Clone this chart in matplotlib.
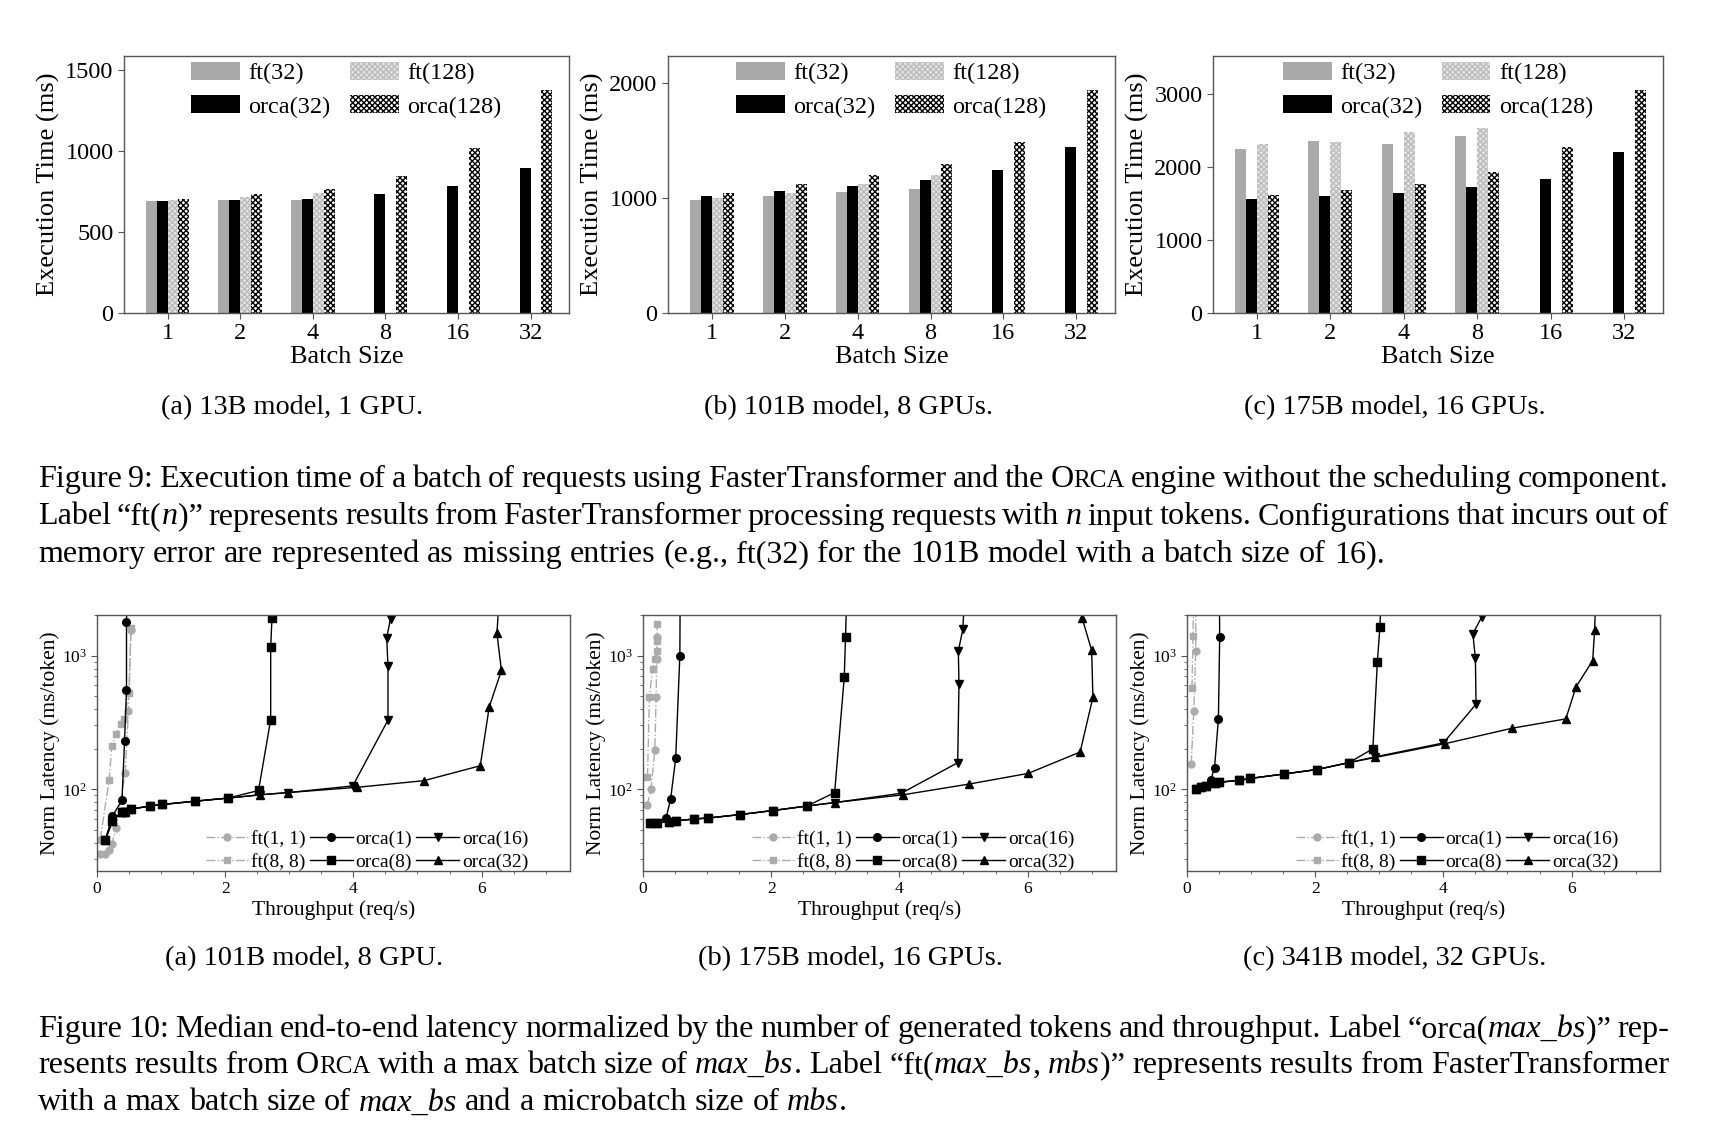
import numpy as np
import matplotlib
matplotlib.use('Agg')
import matplotlib.pyplot as plt
from matplotlib.ticker import MultipleLocator, LogLocator, NullFormatter
from matplotlib.transforms import IdentityTransform

plt.rcParams['font.family'] = 'Liberation Serif'
plt.rcParams['mathtext.fontset'] = 'custom'
plt.rcParams['mathtext.rm'] = 'Liberation Serif'
plt.rcParams['mathtext.it'] = 'Liberation Serif:italic'
plt.rcParams['hatch.linewidth'] = 1.0

nan = np.nan

# ---- Figure 9: execution time of a batch (ms) ----
batch_sizes = ['1', '2', '4', '8', '16', '32']
bar_labels = ['ft(32)', 'orca(32)', 'ft(128)', 'orca(128)']

ft32_13b = [691, 695, 699, nan, nan, nan]
orca32_13b = [689, 695, 703, 736, 782, 893]
ft128_13b = [699, 714, 741, nan, nan, nan]
orca128_13b = [703, 732, 765, 844, 1017, 1376]

ft32_101b = [983, 1018, 1052, 1073, nan, nan]
orca32_101b = [1012, 1058, 1104, 1157, 1244, 1438]
ft128_101b = [1000, 1044, 1116, 1194, nan, nan]
orca128_101b = [1044, 1116, 1194, 1290, 1481, 1934]

ft32_175b = [2244, 2349, 2308, 2431, nan, nan]
orca32_175b = [1561, 1598, 1639, 1726, 1841, 2203]
ft128_175b = [2317, 2340, 2477, 2528, nan, nan]
orca128_175b = [1616, 1685, 1763, 1928, 2271, 3054]

bar_ylim = [1585, 2230, 3520]
bar_yticks = [[0, 500, 1000, 1500], [0, 1000, 2000], [0, 1000, 2000, 3000]]
sub9 = ['(a) 13B model, 1 GPU.', '(b) 101B model, 8 GPUs.', '(c) 175B model, 16 GPUs.']

# ---- Figure 10: norm latency (ms/token) vs throughput (req/s) ----
line_labels = ['ft(1, 1)', 'ft(8, 8)', 'orca(1)', 'orca(8)', 'orca(16)', 'orca(32)']

# 101B model, 8 GPU
ft11_a_x = [0.05, 0.12, 0.18, 0.23, 0.30, 0.44, 0.49, 0.53]
ft11_a_y = [33, 33, 35, 39, 51, 133, 385, 1550]
ft88_a_x = [0.05, 0.19, 0.23, 0.30, 0.37, 0.42, 0.50, 0.53]
ft88_a_y = [42, 118, 211, 257, 310, 337, 521, 1600]
orca1_a_x = [0.13, 0.24, 0.39, 0.43, 0.46, 0.46, 0.47]
orca1_a_y = [42, 63, 83, 230, 555, 1775, 3000]
orca8_a_x = [0.13, 0.24, 0.39, 0.44, 0.53, 0.82, 1.02, 1.53, 2.05, 2.52, 2.71, 2.71, 2.73, 2.74]
orca8_a_y = [42, 58, 68, 68, 71, 75, 77, 81.5, 86, 98, 331, 1150, 1920, 3000]
orca16_a_x = [0.13, 0.24, 0.39, 0.44, 0.53, 0.82, 1.02, 1.53, 2.05, 2.55, 2.98, 3.99, 4.54, 4.54, 4.52, 4.58, 4.62]
orca16_a_y = [42, 58, 68, 68, 71, 75, 77, 81.5, 86, 91, 94.5, 106, 329, 839, 1360, 1890, 3000]
orca32_a_x = [0.13, 0.24, 0.39, 0.44, 0.53, 0.82, 1.02, 1.53, 2.05, 2.55, 2.98, 4.06, 5.10, 5.98, 6.12, 6.31, 6.24, 6.28]
orca32_a_y = [42, 58, 68, 68, 71, 75, 77, 81.5, 86, 91, 94.5, 103.5, 116, 150, 413, 774, 1462, 3000]

# 175B model, 16 GPUs
ft11_b_x = [0.065, 0.125, 0.185, 0.205, 0.215, 0.22]
ft11_b_y = [76, 100, 197, 492, 947, 1370]
ft88_b_x = [0.07, 0.10, 0.15, 0.185, 0.215, 0.22, 0.22]
ft88_b_y = [124, 492, 790, 950, 1075, 1290, 1720]
orca1_b_x = [0.115, 0.22, 0.36, 0.43, 0.51, 0.575, 0.58]
orca1_b_y = [56, 56, 61, 84, 170, 1000, 3000]
orca8_b_x = [0.115, 0.22, 0.40, 0.51, 0.80, 1.02, 1.51, 2.03, 2.56, 2.99, 3.14, 3.16, 3.18]
orca8_b_y = [56, 56, 57.4, 58, 60, 61, 64.7, 69.4, 75, 94.5, 687, 1378, 3000]
orca16_b_x = [0.115, 0.22, 0.40, 0.51, 0.80, 1.02, 1.51, 2.03, 2.56, 2.99, 4.03, 4.91, 4.93, 4.92, 4.99, 5.02]
orca16_b_y = [56, 56, 57.4, 58, 60, 61, 64.7, 69.4, 75, 79.6, 93.4, 158, 612, 1083, 1570, 3000]
orca32_b_x = [0.115, 0.22, 0.40, 0.51, 0.80, 1.02, 1.51, 2.03, 2.56, 2.99, 4.06, 5.09, 6.01, 6.82, 7.02, 7.00, 6.85, 6.70]
orca32_b_y = [56, 56, 57.4, 58, 60, 61, 64.7, 69.4, 75, 79.6, 91, 109.5, 131.5, 190, 487, 1095, 1915, 3000]

# 341B model, 32 GPUs
ft11_c_x = [0.065, 0.106, 0.136, 0.14]
ft11_c_y = [154, 387, 1077, 3000]
ft88_c_x = [0.077, 0.095, 0.10]
ft88_c_y = [570, 1406, 3000]
orca1_c_x = [0.136, 0.224, 0.37, 0.43, 0.49, 0.51, 0.505]
orca1_c_y = [100, 103.5, 117, 145, 336, 1368, 3000]
orca8_c_x = [0.136, 0.224, 0.30, 0.43, 0.50, 0.815, 0.99, 1.506, 2.03, 2.53, 2.90, 2.97, 3.01, 3.03]
orca8_c_y = [100, 103.5, 106, 112, 113, 116.6, 120.6, 130, 140.6, 158.5, 201, 893, 1630, 3000]
orca16_c_x = [0.136, 0.224, 0.30, 0.43, 0.50, 0.815, 0.99, 1.506, 2.03, 2.53, 2.94, 4.00, 4.51, 4.50, 4.46, 4.60, 4.70]
orca16_c_y = [100, 103.5, 106, 112, 113, 116.6, 120.6, 130, 140.6, 158.5, 175, 222, 433, 951, 1455, 1950, 3000]
orca32_c_x = [0.136, 0.224, 0.30, 0.43, 0.50, 0.815, 0.99, 1.506, 2.03, 2.53, 2.94, 4.02, 5.07, 5.91, 6.07, 6.33, 6.36, 6.38]
orca32_c_y = [100, 103.5, 106, 112, 113, 116.6, 120.6, 130, 140.6, 158.5, 173, 219, 286, 336, 583, 918, 1559, 3000]

sub10 = ['(a) 101B model, 8 GPU.', '(b) 175B model, 16 GPUs.', '(c) 341B model, 32 GPUs.']

# captions: (text, style) with n = normal, i = italic, sc = small caps
cap9 = [
    [('Figure 9: Execution time of a batch of requests using FasterTransformer and the O', 'n'), ('RCA', 'sc'),
     (' engine without the scheduling component.', 'n')],
    [('Label “ft(', 'n'), ('n', 'i'), (')” represents results from FasterTransformer processing requests with ', 'n'),
     ('n', 'i'), (' input tokens. Configurations that incurs out of', 'n')],
    [('memory error are represented as missing entries (e.g., ft(32) for the 101B model with a batch size of 16).', 'n')],
]
cap10 = [
    [('Figure 10: Median end-to-end latency normalized by the number of generated tokens and throughput. Label “orca(', 'n'),
     ('max_bs', 'i'), (')” rep-', 'n')],
    [('resents results from O', 'n'), ('RCA', 'sc'), (' with a max batch size of ', 'n'), ('max_bs', 'i'),
     ('. Label “ft(', 'n'), ('max_bs', 'i'), (', ', 'n'), ('mbs', 'i'),
     (')” represents results from FasterTransformer', 'n')],
    [('with a max batch size of ', 'n'), ('max_bs', 'i'), (' and a microbatch size of ', 'n'), ('mbs', 'i'), ('.', 'n')],
]

W, H = 1714, 1140
fig = plt.figure(figsize=(W / 100, H / 100), dpi=100)
SPINE = '#555555'


def px_axes(l, r, t, b):
    return fig.add_axes([l / W, 1 - b / H, (r - l) / W, (b - t) / H])


def style_axes(ax, size):
    for s in ax.spines.values():
        s.set_color(SPINE)
        s.set_linewidth(1.0)
    ax.tick_params(which='both', direction='out', color=SPINE, labelsize=size)
    ax.tick_params(which='major', length=4)
    ax.tick_params(which='minor', length=2.5)


# top row: bars
bar_data = [
    [ft32_13b, orca32_13b, ft128_13b, orca128_13b],
    [ft32_101b, orca32_101b, ft128_101b, orca128_101b],
    [ft32_175b, orca32_175b, ft128_175b, orca128_175b],
]
bar_styles = [
    dict(color='#a9a9a9'),
    dict(color='black'),
    dict(facecolor='#e4e4e4', edgecolor='#bcbcbc', hatch='xxxxxx', linewidth=0),
    dict(facecolor='white', edgecolor='black', hatch='xxxxxx', linewidth=0),
]
top_boxes = [(124, 569, 56, 313), (668, 1115, 56, 313), (1213, 1663, 56, 313)]
bw = 0.15
xpos = np.arange(len(batch_sizes))
for k, box in enumerate(top_boxes):
    ax = px_axes(*box)
    for j, vals in enumerate(bar_data[k]):
        ax.bar(xpos + (j - 1.5) * bw, vals, bw, label=bar_labels[j], **bar_styles[j])
    ax.set_xlim(-0.6, 5.53)
    ax.set_ylim(0, bar_ylim[k])
    ax.set_xticks(xpos)
    ax.set_xticklabels(batch_sizes)
    ax.set_yticks(bar_yticks[k])
    style_axes(ax, 17.5)
    ax.set_xlabel('Batch Size', fontsize=19, labelpad=1)
    ax.set_ylabel('Execution Time (ms)', fontsize=19, labelpad=4)
    ax.legend(ncol=2, loc='upper center', frameon=False, fontsize=17.5, handlelength=2.0,
              handleheight=0.75, handletextpad=0.35, columnspacing=0.8, labelspacing=0.45,
              borderaxespad=0.05, borderpad=0.2)

# bottom row: latency curves
line_data = [
    [(ft11_a_x, ft11_a_y), (ft88_a_x, ft88_a_y), (orca1_a_x, orca1_a_y), (orca8_a_x, orca8_a_y),
     (orca16_a_x, orca16_a_y), (orca32_a_x, orca32_a_y)],
    [(ft11_b_x, ft11_b_y), (ft88_b_x, ft88_b_y), (orca1_b_x, orca1_b_y), (orca8_b_x, orca8_b_y),
     (orca16_b_x, orca16_b_y), (orca32_b_x, orca32_b_y)],
    [(ft11_c_x, ft11_c_y), (ft88_c_x, ft88_c_y), (orca1_c_x, orca1_c_y), (orca8_c_x, orca8_c_y),
     (orca16_c_x, orca16_c_y), (orca32_c_x, orca32_c_y)],
]
line_styles = [
    dict(color='#ababab', ls='-.', marker='o', ms=5, lw=1),
    dict(color='#ababab', ls='-.', marker='s', ms=5, lw=1),
    dict(color='black', ls='-', marker='o', ms=5.5, lw=1),
    dict(color='black', ls='-', marker='s', ms=5.5, lw=1),
    dict(color='black', ls='-', marker='v', ms=5.5, lw=1),
    dict(color='black', ls='-', marker='^', ms=5.5, lw=1),
]
bot_boxes = [(97, 570, 615, 871), (643, 1116, 615, 871), (1187, 1660, 615, 871)]
for k, box in enumerate(bot_boxes):
    ax = px_axes(*box)
    for j, (x, y) in enumerate(line_data[k]):
        ax.plot(x, y, label=line_labels[j], **line_styles[j])
    ax.set_yscale('log')
    ax.set_xlim(0, 7.38)
    ax.set_ylim(24.5, 2010)
    ax.xaxis.set_major_locator(MultipleLocator(2))
    ax.xaxis.set_minor_locator(MultipleLocator(0.5))
    ax.yaxis.set_major_locator(LogLocator(base=10))
    ax.yaxis.set_minor_locator(LogLocator(base=10, subs=np.arange(2, 10)))
    ax.yaxis.set_minor_formatter(NullFormatter())
    style_axes(ax, 12.5)
    ax.set_xlabel('Throughput (req/s)', fontsize=15.5, labelpad=2)
    ax.set_ylabel('Norm Latency (ms/token)', fontsize=15.5, labelpad=1)
    ax.legend(ncol=3, loc='lower right', frameon=False, fontsize=14, handlelength=2.2,
              handletextpad=0.15, columnspacing=0.2, labelspacing=0.25, borderaxespad=0,
              borderpad=0.2, bbox_to_anchor=(0.92, -0.015))

# sub captions
for cx, s in zip([292, 849, 1395], sub9):
    fig.text(cx / W, 1 - 408 / H, s, ha='center', va='center', fontsize=20.3)
for cx, s in zip([304, 850, 1395], sub10):
    fig.text(cx / W, 1 - 959 / H, s, ha='center', va='center', fontsize=20.5)

# justified caption lines
renderer = fig.canvas.get_renderer()


def make_words(segs, y, fs):
    items = []
    for s, st in segs:
        for k, w in enumerate(s.split(' ')):
            if k:
                items.append(None)
            if w:
                t = fig.text(0, H - y, w, transform=IdentityTransform(), va='baseline',
                             fontsize=fs * 0.78 if st == 'sc' else fs,
                             fontstyle='italic' if st == 'i' else 'normal')
                items.append((t, t.get_window_extent(renderer).width))
    return items


def space_width(fs):
    a = fig.text(0, 0, 'n n', fontsize=fs)
    b = fig.text(0, 0, 'nn', fontsize=fs)
    w = a.get_window_extent(renderer).width - b.get_window_extent(renderer).width
    a.remove()
    b.remove()
    return w


def place_line(segs, y, fs, x0, x1=None):
    items = make_words(segs, y, fs)
    sp = space_width(fs)
    nsp = sum(1 for it in items if it is None)
    natural = sum(it[1] for it in items if it is not None) + nsp * sp
    if x1 is not None and nsp:
        sp += (x1 - x0 - natural) / nsp
    x = x0
    for it in items:
        if it is None:
            x += sp
        else:
            it[0].set_x(x)
            x += it[1]


# font size chosen so the last (unjustified) line of figure 9 spans its width
probe = make_words(cap9[2], 0, 20)
pw = sum(it[1] for it in probe if it is not None) + sum(1 for it in probe if it is None) * space_width(20)
for it in probe:
    if it is not None:
        it[0].remove()
cfs = 20 * 1347 / pw

x_left, x_right = 38, 1669
for i, y in enumerate([487, 524.5, 562]):
    place_line(cap9[i], y, cfs, x_left, x_right if i < 2 else None)
for i, y in enumerate([1037, 1073, 1110.5]):
    place_line(cap10[i], y, cfs, x_left, x_right if i < 2 else None)

fig.savefig('out.png', dpi=100)
